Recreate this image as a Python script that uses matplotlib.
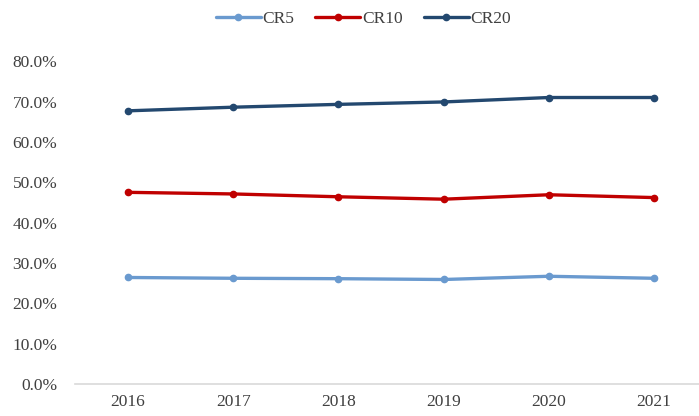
import matplotlib
matplotlib.use("Agg")
import matplotlib.pyplot as plt
from matplotlib.ticker import FuncFormatter

years = ["2016", "2017", "2018", "2019", "2020", "2021"]
cr5 = [26.4, 26.2, 26.1, 25.9, 26.7, 26.2]
cr10 = [47.5, 47.1, 46.4, 45.8, 46.9, 46.2]
cr20 = [67.7, 68.6, 69.3, 69.9, 71.0, 71.0]
y_ticks = [0, 10, 20, 30, 40, 50, 60, 70, 80]

plt.rcParams["font.family"] = ["Liberation Serif", "DejaVu Serif"]

fig = plt.figure(figsize=(6.99, 4.16), dpi=100)
ax = fig.add_axes([0.1079, 0.0769, 0.903, 0.776])

x = list(range(len(years)))
series = [("CR5", cr5, "#6A9ACF"), ("CR10", cr10, "#C00000"), ("CR20", cr20, "#23486F")]
for name, vals, col in series:
    ax.plot(x, vals, color=col, lw=2.4, marker="o", ms=4.5, label=name,
            solid_capstyle="round")

ax.set_xlim(-0.5, len(years) - 0.5)
ax.set_ylim(0, 80)
ax.set_yticks(y_ticks)
ax.yaxis.set_major_formatter(FuncFormatter(lambda v, p: f"{v:.1f}%"))
ax.set_xticks(x)
ax.set_xticklabels(years)
ax.tick_params(axis="both", length=0, labelsize=12.5, colors="#404040")
ax.tick_params(axis="x", pad=7)
ax.tick_params(axis="y", pad=13)

for s in ["top", "right", "left"]:
    ax.spines[s].set_visible(False)
ax.spines["bottom"].set_color("#D9D9D9")
ax.spines["bottom"].set_linewidth(1.2)

fig.legend(loc="center", bbox_to_anchor=(0.52, 0.955), ncol=3, frameon=False,
           fontsize=12.5, handlelength=2.6, columnspacing=1.2, handletextpad=0.1,
           labelcolor="#404040")

fig.savefig("out.png", dpi=100)
